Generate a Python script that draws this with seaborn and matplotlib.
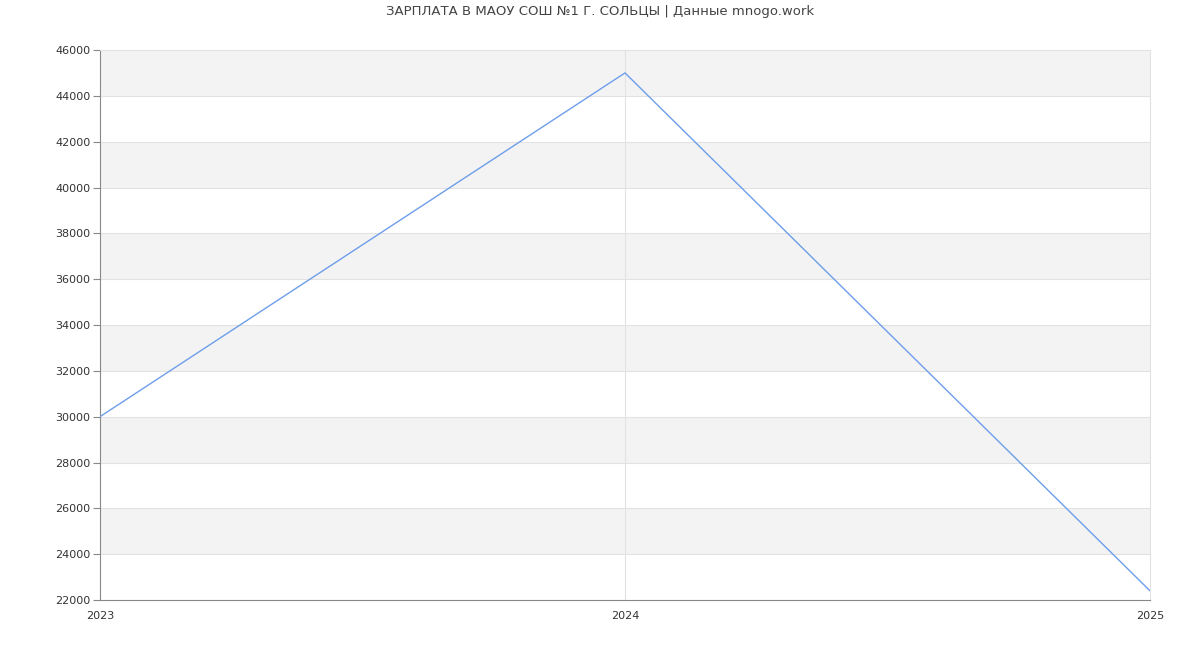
import matplotlib
matplotlib.use("Agg")
import matplotlib.pyplot as pyplot
import pandas
import seaborn

years = [2023, 2024, 2025]
salary = [30000, 45000, 22400]
y_ticks = list(range(22000, 46001, 2000))

seaborn.set_style("white")
pyplot.rcParams['font.family'] = ['DejaVu Sans']

data = pandas.DataFrame({"year": years, "salary": salary})

fig = pyplot.figure(figsize=(12, 6.5), dpi=100)
ax = fig.add_subplot()
fig.subplots_adjust(left=100/1200, right=1150/1200, top=600/650, bottom=50/650)

# alternating bands
for i in range(len(y_ticks) - 1):
    if i % 2 == 1:
        ax.axhspan(y_ticks[i], y_ticks[i + 1], color="#f3f3f3", zorder=0, lw=0)
for t in y_ticks[1:]:
    ax.axhline(t, color="#e2e2e2", lw=0.8, zorder=1)
ax.axvline(2024, color="#e2e2e2", lw=0.8, zorder=1)

seaborn.lineplot(data=data, x="year", y="salary", color="#6d9eeb", lw=1, ax=ax, zorder=3)

ax.set_xlim(2023, 2025)
ax.set_ylim(22000, 46000)
ax.set_xticks(years)
ax.set_xticklabels([str(y) for y in years])
ax.set_yticks(y_ticks)
ax.set_xlabel("")
ax.set_ylabel("")
ax.tick_params(axis="y", left=True, length=5, width=0.8, color="#888888", labelsize=8, labelcolor="#333333", pad=2)
ax.tick_params(axis="x", bottom=False, length=0, labelsize=8, labelcolor="#333333", pad=8)

for side in ["top", "right"]:
    ax.spines[side].set_color("#e2e2e2")
    ax.spines[side].set_linewidth(0.8)
for side in ["left", "bottom"]:
    ax.spines[side].set_color("#888888")
    ax.spines[side].set_linewidth(0.8)

fig.suptitle("ЗАРПЛАТА В МАОУ СОШ №1 Г. СОЛЬЦЫ | Данные mnogo.work", y=1 - 5/650, fontsize=9.5, color="#444444")

fig.savefig("out.png", dpi=100)
